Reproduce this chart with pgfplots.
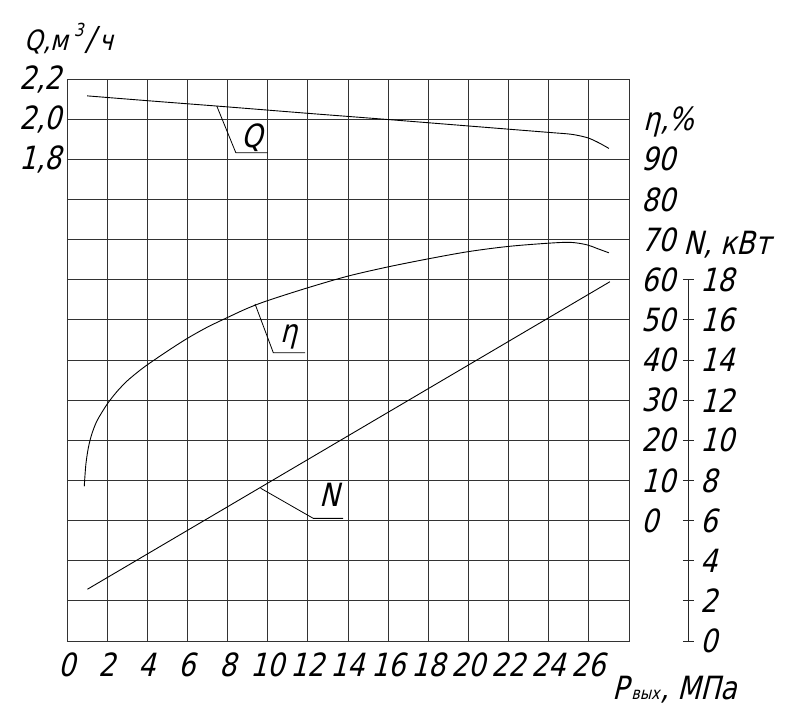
\documentclass[border=0pt]{standalone}
\usepackage{fontspec}
\setmainfont{DejaVu Sans}[FakeSlant=0.25, FakeStretch=0.84]
\usepackage{pgfplots}
\pgfplotsset{compat=1.18}
\newcommand\lbl{\fontsize{32}{32}\selectfont}
\begin{document}
\begin{tikzpicture}
\useasboundingbox (-67pt,-80pt) rectangle (721pt,641pt);
% ---------------- main axis: grid, x ticks, N line ----------------
\begin{axis}[
  at={(0pt,0pt)}, anchor=south west,
  scale only axis, width=562pt, height=562pt,
  xmin=0, xmax=28, ymin=0, ymax=28,
  xtick={0,2,...,28}, ytick={0,2,...,28},
  xticklabels={0,2,4,6,8,10,12,14,16,18,20,22,24,26,{}},
  yticklabels={},
  grid=major, major grid style={black!80, line width=0.9pt},
  axis line style={black!80, line width=0.9pt},
  major tick length=0pt,
  clip=false,
  /pgf/number format/assume math mode=true,
  xticklabel style={font=\lbl, anchor=north, inner sep=0pt, yshift=-12pt},
]
\addplot[black, line width=0.9pt] coordinates {(1.02,2.58) (27.05,17.9)};
% N scale on the right
\draw[black!85, line width=0.9pt] (axis cs:30.94,0) -- (axis cs:30.94,18);
\pgfplotsinvokeforeach{0,2,...,18}{
  \draw[black!85, line width=0.9pt] (axis cs:30.69,#1) -- (axis cs:31.24,#1);
  \node[font=\lbl, anchor=west, inner sep=0pt] at (axis cs:31.55,#1) {#1};
}
% leaders
\draw[black, line width=0.8pt] (axis cs:7.46,26.66) -- (axis cs:8.41,24.33) -- (axis cs:10.0,24.33);
\node[font=\lbl, inner sep=0pt] at (axis cs:9.2,25.06) {Q};
\draw[black, line width=0.8pt] (axis cs:9.37,16.79) -- (axis cs:10.28,14.36) -- (axis cs:11.86,14.36);
\node[font=\lbl, inner sep=0pt] at (axis cs:11.08,15.13) {η};
\draw[black, line width=0.8pt] (axis cs:9.65,7.61) -- (axis cs:12.27,6.11) -- (axis cs:13.76,6.11);
\node[font=\lbl, inner sep=0pt] at (axis cs:13.1,7.27) {N};
% titles
\node[font=\fontsize{28}{28}\selectfont, anchor=base west, inner sep=0pt] at (axis cs:-2.14,29.40)
  {Q,м\kern6pt\raisebox{14pt}{\fontsize{18}{18}\selectfont 3}\kern2pt{\fontsize{33}{33}\selectfont /}\kern4pt ч};
\node[font=\lbl, anchor=west, inner sep=0pt] at (axis cs:28.70,25.86) {η,\%};
\node[font=\lbl, anchor=west, inner sep=0pt] at (axis cs:30.69,19.73) {N, кВт};
\node[font=\lbl, anchor=west, inner sep=0pt] at (axis cs:27.15,-2.44) {P\kern3pt{\fontsize{17}{17}\selectfont вых}\kern1pt, МПа};
\end{axis}
% ---------------- Q axis ----------------
\begin{axis}[
  at={(0pt,0pt)}, anchor=south west,
  scale only axis, width=562pt, height=562pt,
  xmin=0, xmax=28, ymin=-0.6, ymax=2.2,
  axis x line=none, axis y line*=left,
  y axis line style={draw=none},
  ytick={1.8,2.0,2.2},
  major tick length=0pt,
  /pgf/number format/assume math mode=true,
  yticklabel style={font=\lbl, anchor=east, inner sep=0pt, xshift=-5pt,
    /pgf/number format/.cd, fixed, fixed zerofill, precision=1, use comma},
]
\addplot[black, line width=0.9pt, smooth] coordinates {
(1.0,2.116) (4,2.092) (8,2.061) (12,2.029) (16,1.998) (20,1.966) (24,1.934)
(25,1.926) (25.5,1.918) (26,1.905) (26.5,1.882) (27,1.854)};
\end{axis}
% ---------------- eta axis ----------------
\begin{axis}[
  at={(0pt,0pt)}, anchor=south west,
  scale only axis, width=562pt, height=562pt,
  xmin=0, xmax=28, ymin=-30, ymax=110,
  axis x line=none, axis y line*=right,
  y axis line style={draw=none},
  ytick={0,10,...,90},
  major tick length=0pt,
  /pgf/number format/assume math mode=true,
  yticklabel style={font=\lbl, anchor=west, inner sep=0pt, xshift=12pt},
]
\addplot[black, line width=0.9pt, smooth, tension=0.5] coordinates {
(0.86,8.5) (0.94,14.0) (1.07,18.3) (1.24,21.6) (1.5,24.9) (2.0,29.0) (2.5,32.2)
(3.0,34.8) (3.5,36.9) (4.0,38.8) (5.0,42.2) (6.0,45.4) (7.0,48.2) (8.0,50.6)
(9.0,52.9) (10.0,54.8) (12.0,58.0) (14.0,60.9) (16.0,63.2) (18.0,65.2) (20.0,67.0)
(22.0,68.3) (24.0,69.1) (25.1,69.3) (25.9,68.7) (26.4,67.8) (27.0,66.7)};
\end{axis}
\end{tikzpicture}
\end{document}
